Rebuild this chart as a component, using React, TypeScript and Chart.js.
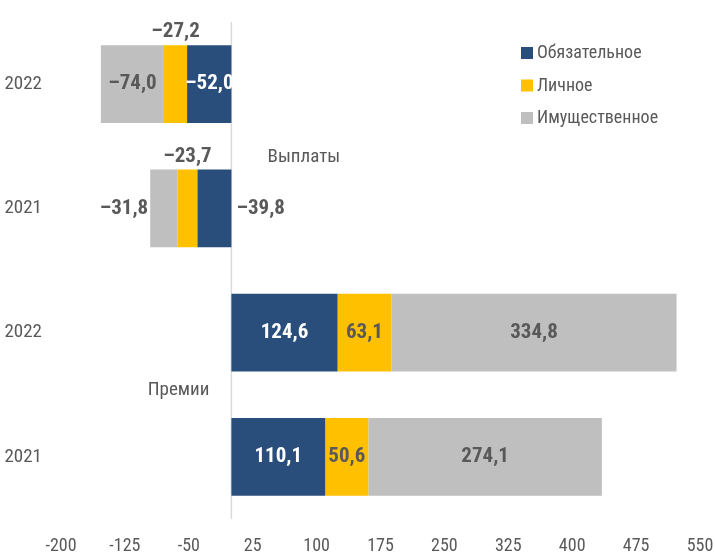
import React, { useEffect, useRef } from 'react';
import { Chart, registerables } from 'chart.js';

Chart.register(...registerables);

const categories = ['2022', '2021', '2022', '2021'];
const seriesNames = ['Обязательное', 'Личное', 'Имущественное'];
const mandatory = [-52.0, -39.8, 124.6, 110.1];
const personal = [-27.2, -23.7, 63.1, 50.6];
const property = [-74.0, -31.8, 334.8, 274.1];
const xTicks = [-200, -125, -50, 25, 100, 175, 250, 325, 400, 475, 550];
const groupLabels = [
  { text: 'Выплаты', x: 85, y: 0.585 },
  { text: 'Премии', x: -62, y: 2.465 },
];
// where each value label sits: per series, per row
const labelPlacement = [
  ['center', 'base', 'center', 'center'],
  ['above', 'above', 'center', 'center'],
  ['center', 'end', 'center', 'center'],
];

const COLORS = ['#2A4E7B', '#FFC000', '#BFBFBF'];
const TEXT = '#595959';
const FAMILY = '"Roboto Condensed", "Liberation Sans", sans-serif';

const fmt = (v: number) => (v < 0 ? '–' : '') + Math.abs(v).toFixed(1).replace('.', ',');

const customPlugin = {
  id: 'custom',
  beforeDatasetsDraw(chart: any) {
    const { ctx, chartArea, scales } = chart;
    const x0 = scales.x.getPixelForValue(0);
    ctx.save();
    ctx.strokeStyle = '#D9D9D9';
    ctx.lineWidth = 1.5;
    ctx.beginPath();
    ctx.moveTo(x0, chartArea.top);
    ctx.lineTo(x0, chartArea.bottom);
    ctx.stroke();
    ctx.restore();
  },
  afterDatasetsDraw(chart: any) {
    const { ctx } = chart;
    ctx.save();
    ctx.font = `bold 21px ${FAMILY}`;
    ctx.textBaseline = 'middle';
    chart.data.datasets.forEach((ds: any, d: number) => {
      const meta = chart.getDatasetMeta(d);
      meta.data.forEach((bar: any, i: number) => {
        const p = bar.getProps(['x', 'y', 'base', 'height'], true);
        const v = ds.data[i];
        const place = labelPlacement[d][i];
        let tx = (p.x + p.base) / 2;
        let ty = p.y;
        let align: CanvasTextAlign = 'center';
        let color = TEXT;
        if (place === 'center') {
          color = d === 0 ? '#FFFFFF' : TEXT;
        } else if (place === 'above') {
          ty = p.y - p.height / 2 - 13;
        } else if (place === 'base') {
          tx = p.base + 5;
          align = 'left';
        } else if (place === 'end') {
          tx = Math.min(p.x, p.base) - 2;
          align = 'right';
        }
        ctx.fillStyle = color;
        ctx.textAlign = align;
        ctx.fillText(fmt(v), tx, ty);
      });
    });
    ctx.restore();
  },
  afterDraw(chart: any) {
    const { ctx, chartArea, scales } = chart;
    ctx.save();
    ctx.font = `19px ${FAMILY}`;
    ctx.fillStyle = TEXT;
    ctx.textAlign = 'center';
    ctx.textBaseline = 'middle';
    groupLabels.forEach((g) => {
      ctx.fillText(g.text, scales.x.getPixelForValue(g.x), scales.y.getPixelForValue(g.y));
    });
    ctx.font = `18px ${FAMILY}`;
    ctx.textAlign = 'left';
    const lx = chartArea.right - 179;
    seriesNames.forEach((name, i) => {
      const top = chartArea.top + 25 + i * 32.5;
      ctx.fillStyle = COLORS[i];
      ctx.fillRect(lx, top, 12, 12);
      ctx.fillStyle = TEXT;
      ctx.fillText(name, lx + 16, top + 6.5);
    });
    ctx.restore();
  },
};

export default function App() {
  const ref = useRef<HTMLCanvasElement>(null);
  useEffect(() => {
    if (!ref.current) return;
    Chart.defaults.font.family = FAMILY;
    const chart = new Chart(ref.current, {
      type: 'bar',
      data: {
        labels: categories,
        datasets: [mandatory, personal, property].map((data, i) => ({
          label: seriesNames[i],
          data,
          backgroundColor: COLORS[i],
          borderWidth: 0,
          categoryPercentage: 1,
          barPercentage: 0.627,
        })),
      },
      options: {
        indexAxis: 'y',
        animation: false,
        responsive: true,
        maintainAspectRatio: false,
        layout: { padding: { top: 22, left: 0, right: 0, bottom: 0 } },
        plugins: { legend: { display: false }, tooltip: { enabled: false } },
        scales: {
          x: {
            stacked: true,
            min: -200,
            max: 550,
            afterBuildTicks: (scale: any) => {
              scale.ticks = xTicks.map((v) => ({ value: v }));
            },
            afterFit: (scale: any) => {
              scale.height = 40;
              scale.paddingRight = 15;
              scale.paddingLeft = 0;
            },
            grid: { display: false, drawTicks: false },
            border: { display: false },
            ticks: {
              color: TEXT,
              font: { size: 18 },
              padding: 17,
              maxRotation: 0,
              autoSkip: false,
              callback: (v: any) => String(v),
            },
          },
          y: {
            stacked: true,
            afterFit: (scale: any) => {
              scale.width = 61;
              scale.paddingTop = 0;
              scale.paddingBottom = 0;
            },
            grid: { display: false, drawTicks: false },
            border: { display: false },
            ticks: { color: TEXT, font: { size: 19 }, padding: 19 },
          },
        },
      },
      plugins: [customPlugin],
    });
    return () => chart.destroy();
  }, []);
  return (
    <div style={{ position: 'fixed', left: 0, top: 0, width: 715, height: 559, background: '#fff' }}>
      <canvas ref={ref} />
    </div>
  );
}
